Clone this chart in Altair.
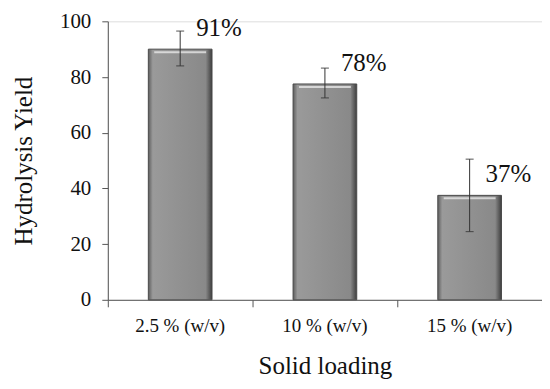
import altair as alt
import pandas as pd

categories = ["2.5 % (w/v)", "10 % (w/v)", "15 % (w/v)"]
yields = [90, 77.5, 37.5]
err_low = [84, 72.5, 24.5]
err_high = [96.5, 83.2, 50.5]
labels = ["91%", "78%", "37%"]

df = pd.DataFrame({
    "cat": categories,
    "y": yields,
    "lo": err_low,
    "hi": err_high,
    "lab": labels,
})

FONT = "Liberation Serif, Times New Roman, serif"
TXT = "#111"

x = alt.X("cat:N", sort=categories, title="Solid loading",
          scale=alt.Scale(paddingInner=0, paddingOuter=0),
          axis=alt.Axis(labelAngle=0, labelFontSize=19, labelFont=FONT, labelColor=TXT,
                        titleFontSize=25, titleFont=FONT, titleFontWeight="normal", titleColor=TXT,
                        titlePadding=18, labelPadding=10, bandPosition=1, tickExtra=True,
                        tickSize=7, domainColor="#555", tickColor="#555", grid=False))
y = alt.Y("y:Q", title="Hydrolysis Yield",
          scale=alt.Scale(domain=[0, 100]),
          axis=alt.Axis(values=[0, 20, 40, 60, 80, 100], labelFontSize=21, labelFont=FONT,
                        labelColor=TXT, titleFontSize=25, titleFont=FONT,
                        titleFontWeight="normal", titleColor=TXT, titlePadding=23,
                        labelPadding=11, tickSize=6, domainColor="#555", tickColor="#555", grid=False))

base = alt.Chart(df)

grad = alt.Gradient(gradient="linear", x1=0, x2=1, y1=0, y2=0, stops=[
    alt.GradientStop(color="#5e5e5e", offset=0),
    alt.GradientStop(color="#9a9a9a", offset=0.07),
    alt.GradientStop(color="#919191", offset=0.5),
    alt.GradientStop(color="#898989", offset=0.9),
    alt.GradientStop(color="#3e3e3e", offset=1),
])

bars = base.mark_bar(width=alt.RelativeBandSize(0.44), color=grad,
                     stroke="#4a4a4a", strokeWidth=1).encode(x=x, y=y)

highlight = base.mark_tick(color="#f4f4f4", thickness=2, size=52, orient="horizontal").encode(
    x=alt.X("cat:N", sort=categories), y=alt.Y("y:Q"), yOffset=alt.value(3))

err = base.mark_rule(color="#333", strokeWidth=1).encode(
    x=alt.X("cat:N", sort=categories), y=alt.Y("lo:Q"), y2="hi:Q")
cap_lo = base.mark_tick(color="#333", thickness=1.2, size=8, orient="horizontal").encode(
    x=alt.X("cat:N", sort=categories), y=alt.Y("lo:Q"))
cap_hi = base.mark_tick(color="#333", thickness=1.2, size=8, orient="horizontal").encode(
    x=alt.X("cat:N", sort=categories), y=alt.Y("hi:Q"))

text = base.mark_text(align="left", baseline="middle", dx=16, dy=-21, font=FONT,
                      fontSize=25, color=TXT).encode(
    x=alt.X("cat:N", sort=categories), y=alt.Y("y:Q"), text="lab:N")

chart = alt.layer(bars, highlight, err, cap_lo, cap_hi, text).properties(
    width=435, height=279,
    autosize=alt.AutoSizeParams(type="none"),
    padding={"left": 100, "top": 13, "right": 0, "bottom": 80},
).configure_view(stroke=None).configure(background="white")

chart.save("out.html", embed_options={"renderer": "svg", "actions": False})
